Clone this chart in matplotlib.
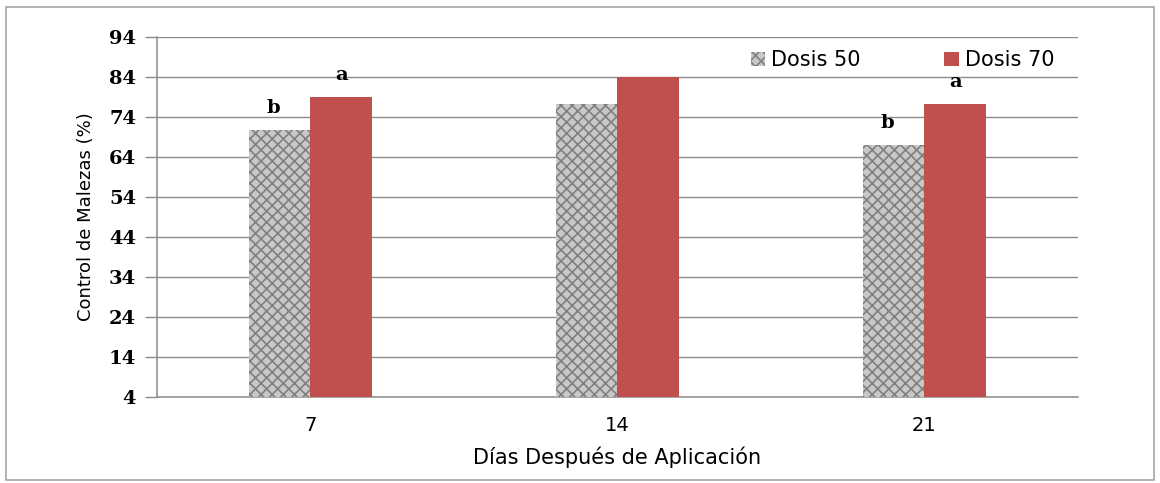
import numpy as np
import matplotlib
matplotlib.use("Agg")
import matplotlib.pyplot as plt
from matplotlib.patches import Rectangle

days = ["7", "14", "21"]
dosis50 = [70.8, 77.3, 67.0]
dosis70 = [79.0, 84.0, 77.2]
letters50 = ["b", "", "b"]
letters70 = ["a", "", "a"]
yticks = [4, 14, 24, 34, 44, 54, 64, 74, 84, 94]

RED = "#C0504D"
GRID = "#8C8C8C"
plt.rcParams["hatch.linewidth"] = 1.2

fig = plt.figure(figsize=(11.6, 4.83), dpi=100)
ax = fig.add_axes([0.1353, 0.178, 0.794, 0.7454])
fig.patches.append(Rectangle((0.005, 0.006), 0.99, 0.98, transform=fig.transFigure,
                             fill=False, ec="#A6A6A6", lw=1.2))

x = np.arange(len(days))
w = 0.2
ax.bar(x - w/2, [v - 4 for v in dosis50], w, bottom=4, color="#C8C8C8",
       hatch="xxx", edgecolor="#808080", lw=0, zorder=3, label="Dosis 50")
ax.bar(x + w/2, [v - 4 for v in dosis70], w, bottom=4, color=RED,
       lw=0, zorder=3, label="Dosis 70")

for i in range(len(days)):
    ax.text(x[i] - w/2 - 0.02, dosis50[i] + 3.3, letters50[i], ha="center", va="bottom",
            fontsize=14, fontweight="bold", family="DejaVu Serif")
    ax.text(x[i] + w/2, dosis70[i] + 3.3, letters70[i], ha="center", va="bottom",
            fontsize=14, fontweight="bold", family="DejaVu Serif")

ax.set_xlim(-0.5, 2.5)
ax.set_ylim(4, 94)
ax.set_yticks(yticks)
ax.set_yticklabels([str(t) for t in yticks], fontsize=14, fontweight="bold",
                   family="DejaVu Serif")
ax.set_xticks(x)
ax.set_xticklabels(days, fontsize=14, family="DejaVu Sans")
ax.tick_params(axis="x", length=0, pad=14)
ax.tick_params(axis="y", length=9, width=1, color=GRID, pad=6)
ax.yaxis.grid(True, color=GRID, lw=1)
ax.set_axisbelow(True)
for s in ["top", "right"]:
    ax.spines[s].set_visible(False)
for s in ["left", "bottom"]:
    ax.spines[s].set_color(GRID)
    ax.spines[s].set_linewidth(1.1)

ax.set_xlabel("Días Después de Aplicación", fontsize=15, labelpad=8)
ax.set_ylabel("Control de Malezas (%)", fontsize=13, labelpad=10)

ax.legend(loc="upper right", bbox_to_anchor=(0.995, 1.015), ncol=2, frameon=False,
          fontsize=15, handlelength=0.7, handleheight=0.7, handletextpad=0.3,
          columnspacing=4.0)

fig.savefig("out.png", dpi=100)
